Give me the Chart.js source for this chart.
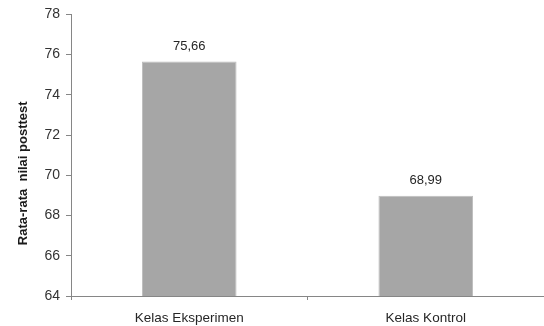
<!DOCTYPE html>
<html lang="id">
  <head>
    <meta charset="UTF-8" />
    <title>Rata-rata nilai posttest</title>
    <script src="https://cdn.jsdelivr.net/npm/chart.js"></script>
    <style>
      html, body { margin: 0; padding: 0; background: #fff; }
      .wrap { width: 544px; height: 326px; }
    </style>
  </head>
  <body>
    <div class="wrap"><canvas id="chartNilai"></canvas></div>
    <script>
      const kelas = ["Kelas Eksperimen", "Kelas Kontrol"];
      const rataRata = [75.66, 68.99];
      const labelNilai = ["75,66", "68,99"];

      // label angka di atas batang
      const labelAtas = {
        id: "labelAtas",
        afterDatasetsDraw(chart) {
          const ctx = chart.ctx;
          const meta = chart.getDatasetMeta(0);
          ctx.save();
          ctx.font = "13px 'Liberation Sans'";
          ctx.fillStyle = "#262626";
          ctx.textAlign = "center";
          ctx.textBaseline = "bottom";
          meta.data.forEach((bar, i) => {
            ctx.fillText(labelNilai[i], bar.x, bar.y - 9);
          });
          ctx.restore();
        },
      };

      new Chart(document.getElementById("chartNilai"), {
        type: "bar",
        data: {
          labels: kelas,
          datasets: [
            {
              data: rataRata,
              backgroundColor: "#a6a6a6",
              borderColor: "#bdbdbd",
              borderWidth: 1,
              barPercentage: 0.4,
              categoryPercentage: 1,
            },
          ],
        },
        options: {
          responsive: true,
          maintainAspectRatio: false,
          animation: false,
          layout: { padding: { top: 13, right: 0, left: 0, bottom: 0 } },
          plugins: { legend: { display: false }, tooltip: { enabled: false } },
          scales: {
            x: {
              grid: {
                drawOnChartArea: false,
                color: "#868686",
                tickLength: 4,
                offset: true,
              },
              border: { color: "#868686" },
              ticks: {
                color: "#262626",
                font: { family: "Liberation Sans", size: 13.5 },
                padding: 10,
              },
              afterFit: (s) => { s.height = 30; },
            },
            y: {
              min: 64,
              max: 78,
              ticks: {
                stepSize: 2,
                color: "#333",
                font: { family: "Liberation Sans", size: 14 },
                padding: 6,
              },
              grid: { drawOnChartArea: false, color: "#868686", tickLength: 5 },
              border: { color: "#868686" },
              title: {
                display: true,
                // spasi di akhir menggeser judul sedikit ke bawah
                text: "Rata-rata  nilai posttest          ",
                color: "#1a1a1a",
                padding: { top: 16, bottom: 0 },
                font: { family: "Liberation Sans", size: 13, weight: "bold" },
              },
              afterFit: (s) => { s.width = 71; },
            },
          },
        },
        plugins: [labelAtas],
      });
    </script>
  </body>
</html>
